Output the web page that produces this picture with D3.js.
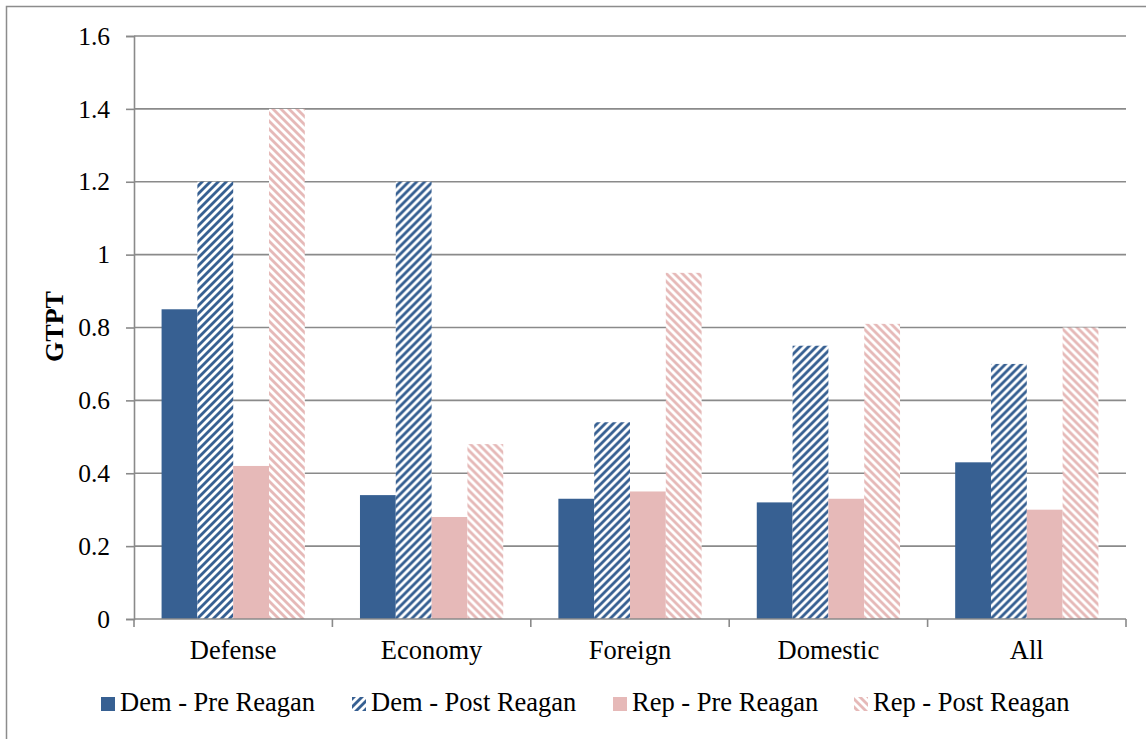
<!DOCTYPE html>
<html>
<head>
<meta charset="utf-8">
<script src="https://cdn.jsdelivr.net/npm/d3@7"></script>
<style>
  html, body { margin: 0; padding: 0; background: #fff; }
  svg { display: block; }
  text { font-family: "Liberation Serif", "Times New Roman", serif; fill: #000; }
</style>
</head>
<body>
<svg id="chart" width="1146" height="739"></svg>
<script>
// ---- data ----
const categories = ["Defense", "Economy", "Foreign", "Domestic", "All"];
const seriesNames = ["Dem - Pre Reagan", "Dem - Post Reagan", "Rep - Pre Reagan", "Rep - Post Reagan"];
const demPre  = [0.85, 0.34, 0.33, 0.32, 0.43];
const demPost = [1.20, 1.20, 0.54, 0.75, 0.70];
const repPre  = [0.42, 0.28, 0.35, 0.33, 0.30];
const repPost = [1.40, 0.48, 0.95, 0.81, 0.80];
const yTicks = [0, 0.2, 0.4, 0.6, 0.8, 1, 1.2, 1.4, 1.6];
const yLabel = "GTPT";

const seriesValues = [demPre, demPost, repPre, repPost];

// ---- styles ----
const FONT = "Liberation Serif";
const BLUE = "#376092";
const PINK = "#E6B9B8";
const GRID = "#8a8a8a";
const fillFor = i => i === 0 ? BLUE : i === 2 ? PINK : (i === 1 ? "url(#patBlue)" : "url(#patPink)");

const svg = d3.select("#chart");
const W = 1146, H = 739;
const plot = { left: 134, right: 1126, top: 36, bottom: 619 };

// patterns
const defs = svg.append("defs");
function makePattern(id, color, up) {
  const p = defs.append("pattern")
    .attr("id", id).attr("patternUnits", "userSpaceOnUse")
    .attr("width", 8).attr("height", 8);
  p.append("rect").attr("width", 8).attr("height", 8).attr("fill", "#fff");
  if (up) {
    p.append("path").attr("d", "M0,0 L4,0 L0,4 Z M8,0 L8,4 L4,8 L0,8 Z").attr("fill", color);
  } else {
    p.append("path").attr("d", "M8,0 L4,0 L8,4 Z M0,0 L0,4 L4,8 L8,8 Z").attr("fill", color);
  }
}
makePattern("patBlue", BLUE, true);
makePattern("patPink", PINK, false);

// outer border
svg.append("rect")
  .attr("x", 6.5).attr("y", 6.5)
  .attr("width", W).attr("height", H)
  .attr("fill", "none").attr("stroke", "#8c8c8c").attr("stroke-width", 1.5);

// scales
const x0 = d3.scaleBand().domain(categories).range([plot.left, plot.right]).padding(0);
const x1 = d3.scaleBand().domain(d3.range(4)).range([0, x0.bandwidth()])
  .paddingInner(0).paddingOuter(0.77);
const y = d3.scaleLinear().domain([0, 1.6]).range([plot.bottom, plot.top]);

// gridlines
svg.append("g").selectAll("line").data(yTicks.filter(d => d > 0)).join("line")
  .attr("x1", plot.left).attr("x2", plot.right)
  .attr("y1", d => y(d)).attr("y2", d => y(d))
  .attr("stroke", GRID).attr("stroke-width", 1.6);

// bars
const groups = svg.append("g").selectAll("g").data(categories).join("g")
  .attr("transform", c => `translate(${x0(c)},0)`);
groups.selectAll("rect")
  .data((c, ci) => seriesValues.map((vals, si) => ({ si, v: vals[ci] })))
  .join("rect")
  .attr("x", d => x1(d.si))
  .attr("width", x1.bandwidth())
  .attr("y", d => y(d.v))
  .attr("height", d => y(0) - y(d.v))
  .attr("fill", d => fillFor(d.si));

// y axis
const yAxis = d3.axisLeft(y).tickValues(yTicks).tickSize(8).tickPadding(16)
  .tickFormat(d => d3.format("")(+d.toFixed(1)));
const yg = svg.append("g").attr("transform", `translate(${plot.left},0)`).call(yAxis)
  .attr("font-family", FONT);
yg.select(".domain").attr("stroke", GRID).attr("stroke-width", 1.6);
yg.selectAll(".tick line").attr("stroke", GRID).attr("stroke-width", 1.6);
yg.selectAll(".tick text").attr("font-size", 25.5).attr("fill", "#000")
  .attr("font-family", FONT);

// x axis
const xg = svg.append("g").attr("transform", `translate(0,${plot.bottom})`);
xg.append("line").attr("x1", plot.left).attr("x2", plot.right)
  .attr("y1", 0).attr("y2", 0).attr("stroke", GRID).attr("stroke-width", 1.6);
const boundaries = categories.map(c => x0(c)).concat([x0(categories[categories.length - 1]) + x0.bandwidth()]);
xg.selectAll("line.tk").data(boundaries).join("line").attr("class", "tk")
  .attr("x1", d => d).attr("x2", d => d).attr("y1", 0).attr("y2", 8)
  .attr("stroke", GRID).attr("stroke-width", 1.6);
xg.selectAll("text").data(categories).join("text")
  .attr("x", c => x0(c) + x0.bandwidth() / 2)
  .attr("y", 40)
  .attr("text-anchor", "middle")
  .attr("font-family", FONT)
  .attr("font-size", 26.5)
  .text(c => c);

// y label
svg.append("text")
  .attr("transform", `translate(63,${(plot.top + plot.bottom) / 2 - 1}) rotate(-90)`)
  .attr("text-anchor", "middle")
  .attr("font-family", FONT)
  .attr("font-size", 26).attr("font-weight", "bold")
  .text(yLabel);

// legend
const legendX = [101, 352, 613, 854];
const leg = svg.append("g").selectAll("g").data(seriesNames).join("g")
  .attr("transform", (d, i) => `translate(${legendX[i]},697)`);
leg.append("rect").attr("x", 0).attr("y", 0).attr("width", 14).attr("height", 14)
  .attr("fill", (d, i) => fillFor(i));
leg.append("text").attr("x", 19).attr("y", 14)
  .attr("font-family", FONT)
  .attr("font-size", 26.5).text(d => d);
</script>
</body>
</html>
